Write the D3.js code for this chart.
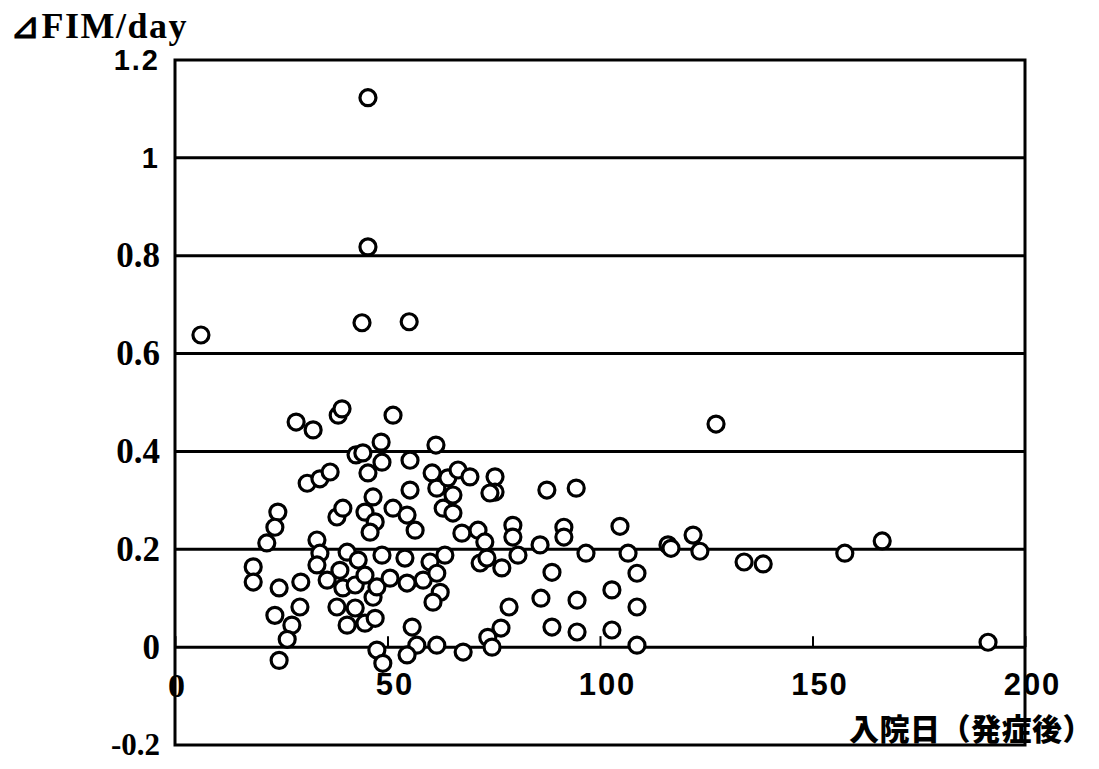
<!DOCTYPE html>
<html>
<head>
<meta charset="utf-8">
<script src="https://cdn.jsdelivr.net/npm/d3@7"></script>
<style>
  body { margin: 0; background: #fff; }
</style>
</head>
<body>
<div id="chart"></div>
<script>
// days after onset at admission, and FIM gain per day
const days = [
  45.4, 45.4, 6.1, 44.0, 55.1, 127.3, 191.3, 166.4, 157.6, 138.4,
  133.9, 28.5, 32.5, 38.4, 39.3, 51.3, 48.5, 42.6, 44.2, 48.7,
  45.4, 55.3, 61.4, 31.1, 34.1, 36.5, 24.2, 23.5, 21.6, 38.1,
  39.5, 44.7, 46.6, 47.1, 45.9, 51.3, 54.6, 56.5, 55.3, 60.5,
  61.6, 64.2, 66.6, 69.4, 65.4, 63.1, 65.4, 67.5, 71.3, 72.9,
  71.8, 33.4, 34.1, 33.4, 18.4, 18.4, 24.5, 29.6, 23.5, 29.4,
  27.5, 26.4, 24.5, 35.8, 38.8, 40.5, 43.1, 39.5, 42.4, 44.7,
  38.1, 42.4, 46.6, 40.5, 44.7, 47.1, 48.7, 47.5, 50.6, 54.6,
  54.1, 58.4, 60.0, 61.6, 62.4, 60.7, 63.5, 55.8, 56.9, 54.6,
  61.6, 67.8, 47.5, 48.9, 75.3, 75.3, 74.1, 87.5, 94.4, 79.5,
  79.5, 80.7, 85.9, 91.5, 91.5, 104.7, 96.7, 106.6, 116.0, 73.4,
  76.9, 88.7, 108.7, 86.1, 94.6, 102.8, 108.7, 78.6, 76.7, 73.6,
  74.6, 88.7, 94.6, 102.8, 108.7, 116.7, 121.9, 123.5
];
const fimGain = [
  1.123, 0.818, 0.638, 0.663, 0.665, 0.456, 0.010, 0.217, 0.192, 0.170,
  0.174, 0.460, 0.444, 0.474, 0.487, 0.474, 0.419, 0.393, 0.397, 0.378,
  0.356, 0.382, 0.413, 0.335, 0.344, 0.358, 0.276, 0.245, 0.213, 0.266,
  0.284, 0.276, 0.307, 0.256, 0.235, 0.284, 0.270, 0.239, 0.321, 0.356,
  0.325, 0.346, 0.362, 0.348, 0.311, 0.284, 0.274, 0.233, 0.239, 0.215,
  0.172, 0.219, 0.192, 0.168, 0.164, 0.133, 0.121, 0.133, 0.065, 0.082,
  0.045, 0.016, -0.027, 0.137, 0.157, 0.194, 0.178, 0.121, 0.127, 0.147,
  0.082, 0.080, 0.102, 0.045, 0.049, 0.059, 0.188, 0.123, 0.141, 0.131,
  0.182, 0.137, 0.174, 0.151, 0.112, 0.092, 0.188, 0.041, 0.004, -0.016,
  0.004, -0.010, -0.006, -0.033, 0.348, 0.317, 0.315, 0.321, 0.325, 0.249,
  0.225, 0.188, 0.209, 0.245, 0.225, 0.247, 0.192, 0.192, 0.209, 0.182,
  0.162, 0.153, 0.151, 0.100, 0.096, 0.117, 0.082, 0.082, 0.039, 0.020,
  0.000, 0.041, 0.031, 0.035, 0.004, 0.202, 0.229, 0.196
];
const xTicks = [0, 50, 100, 150, 200];
const yTicks = [-0.2, 0, 0.2, 0.4, 0.6, 0.8, 1, 1.2];
const gridLines = [0, 0.2, 0.4, 0.6, 0.8, 1];
const titleText = '⊿FIM/day';
const xLabelText = '入院日（発症後）';

const width = 1099, height = 769;
const plotLeft = 175, plotRight = 1025, plotTop = 60, plotBottom = 745;

const svg = d3.select('#chart')
  .append('svg')
  .attr('width', width)
  .attr('height', height)
  .style('background', '#fff');

const x = d3.scaleLinear().domain([0, 200]).range([plotLeft, plotRight]);
const y = d3.scaleLinear().domain([-0.2, 1.2]).range([plotBottom, plotTop]);

const serif = '"Liberation Serif", "Times New Roman", serif';
const sans = '"Liberation Sans", Arial, sans-serif';

// horizontal grid lines (0 doubles as the x axis)
svg.append('g')
  .selectAll('line')
  .data(gridLines)
  .join('line')
  .attr('x1', plotLeft)
  .attr('x2', plotRight)
  .attr('y1', d => y(d))
  .attr('y2', d => y(d))
  .attr('stroke', '#000')
  .attr('stroke-width', 3);

// frame
svg.append('rect')
  .attr('x', plotLeft)
  .attr('y', plotTop)
  .attr('width', plotRight - plotLeft)
  .attr('height', plotBottom - plotTop)
  .attr('fill', 'none')
  .attr('stroke', '#000')
  .attr('stroke-width', 3);

// x axis sits on y = 0, ticks point up
const xAxis = svg.append('g')
  .attr('transform', `translate(0,${y(0)})`)
  .call(d3.axisBottom(x).tickValues(xTicks).tickSizeInner(-11).tickSizeOuter(0).tickPadding(26)
    .tickFormat(d3.format('d')));
xAxis.select('.domain').remove();
xAxis.selectAll('.tick line').attr('stroke', '#000').attr('stroke-width', 2);
xAxis.selectAll('.tick text')
  .attr('fill', '#000')
  .attr('font-weight', 'bold')
  .attr('dx', d => d === 0 ? 1 : 7)
  .attr('font-family', d => d === 0 ? serif : sans)
  .attr('font-size', d => d === 0 ? 34 : 31)
  .attr('letter-spacing', d => d === 0 ? 0 : 2);

// y axis labels (plain hyphen for the minus sign)
const yAxis = svg.append('g')
  .attr('transform', `translate(${plotLeft},0)`)
  .call(d3.axisLeft(y).tickValues(yTicks).tickSize(0).tickPadding(15)
    .tickFormat(d => String(+d.toFixed(1))));
yAxis.select('.domain').remove();
yAxis.selectAll('.tick text')
  .attr('fill', '#000')
  .attr('font-weight', 'bold')
  .attr('font-family', d => d >= 1 ? sans : serif)
  .attr('font-size', d => d >= 1 ? 29 : (d < 0 ? 31 : 35))
  .attr('letter-spacing', d => d >= 1 ? 2 : 0);

// points
const points = days.map((d, i) => ({ day: d, gain: fimGain[i] }));
svg.append('g')
  .selectAll('circle')
  .data(points)
  .join('circle')
  .attr('cx', d => x(d.day))
  .attr('cy', d => y(d.gain))
  .attr('r', 8)
  .attr('fill', '#fff')
  .attr('stroke', '#000')
  .attr('stroke-width', 3.2);

// titles
svg.append('text')
  .attr('x', 10)
  .attr('y', 38)
  .attr('font-family', serif)
  .attr('font-weight', 'bold')
  .attr('font-size', 36)
  .attr('letter-spacing', 1.5)
  .text(titleText);

svg.append('text')
  .attr('x', 1093)
  .attr('y', 740)
  .attr('text-anchor', 'end')
  .attr('font-family', '"Noto Sans CJK JP", sans-serif')
  .attr('font-weight', 900)
  .attr('font-size', 30)
  .attr('letter-spacing', 0.5)
  .text(xLabelText);
</script>
</body>
</html>
